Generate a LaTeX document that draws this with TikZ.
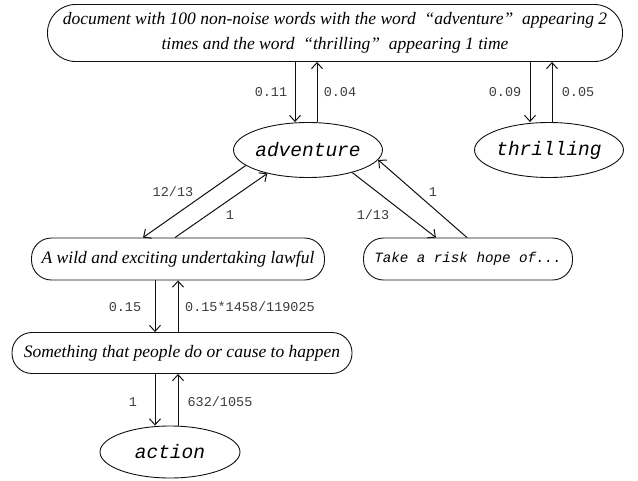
\documentclass[tikz,border=0pt]{standalone}
\usepackage{fontspec}
\setmainfont{Liberation Serif}
\newfontfamily\monofam{Liberation Mono}
\usetikzlibrary{arrows.meta,shapes.geometric}
\definecolor{Ink}{HTML}{111111}
\definecolor{Muted}{HTML}{3C3C3C}
\tikzset{
  sensebox/.style={
    draw=Ink,
    line width=0.9pt,
    rounded corners=20pt,
    minimum height=42pt,
    inner sep=2pt,
    font=\itshape\fontsize{17.5}{25}\selectfont
  },
  wordnode/.style={
    draw=Ink,
    ellipse,
    line width=0.9pt,
    minimum width=140pt,
    minimum height=55pt,
    inner sep=0pt,
    font=\monofam\itshape\fontsize{19.5}{22}\selectfont
  },
  flow/.style={-{Straight Barb[length=6pt,width=11pt]}, line width=1pt, draw=Ink},
  prob/.style={font=\monofam\fontsize{13.5}{15}\selectfont, text=Muted}
}

\begin{document}
\begin{tikzpicture}[x=1pt,y=-1pt]
  \useasboundingbox (0,0) rectangle (638,480);
  % nodes
  \node[sensebox, rounded corners=28pt, minimum width=575pt, minimum height=57pt,
        align=center] (doc) at (335,33)
    {document with 100 non-noise words with the word ~“adventure”~ appearing 2\\
     times and the word ~“thrilling”~ appearing 1 time};
  \node[wordnode] (adv) at (308,150) {adventure};
  \node[wordnode] (thr) at (549,150) {thrilling};
  \node[sensebox, minimum width=293pt] (wild) at (178,259) {A wild and exciting undertaking lawful};
  \node[sensebox, minimum width=209pt, font=\monofam\itshape\fontsize{14.2}{16}\selectfont]
    (risk) at (468,259) {Take a risk hope of...};
  \node[sensebox, minimum width=340pt, minimum height=41pt] (act) at (182,353)
    {Something that people do or cause to happen};
  \node[wordnode, minimum height=52pt] (action) at (170,452) {action};
  % document <-> words
  \draw[flow] ([xshift=-13pt]adv.north |- doc.south) -- ([xshift=-13pt]adv.north);
  \draw[flow] ([xshift=9pt]adv.north) -- ([xshift=9pt]adv.north |- doc.south);
  \draw[flow] ([xshift=-19pt]thr.north |- doc.south) -- ([xshift=-19pt]thr.north);
  \draw[flow] ([xshift=3pt]thr.north) -- ([xshift=3pt]thr.north |- doc.south);
  \node[prob] (p1) at (271,92) {0.11};
  \node[prob] (p2) at (340,92) {0.04};
  \node[prob] (p3) at (505,92) {0.09};
  \node[prob] (p4) at (578,92) {0.05};
  % adventure <-> senses
  \draw[flow] (adv.194) -- ([xshift=-35pt]wild.north);
  \draw[flow] ([xshift=-3pt]wild.north) -- (adv.210);
  \draw[flow] (adv.333) -- ([xshift=-32pt]risk.north);
  \draw[flow] ([xshift=-1pt]risk.north) -- (adv.352);
  \node[prob] (p5) at (173,192) {12/13};
  \node[prob] (p6) at (230,215) {1};
  \node[prob] (p7) at (373,215) {1/13};
  \node[prob] (p8) at (433,192) {1};
  % sense chain down to action
  \draw[flow] ([xshift=-23pt]wild.south) -- ([xshift=-23pt]wild.south |- act.north);
  \draw[flow] ([xshift=0pt]wild.south |- act.north) -- ([xshift=0pt]wild.south);
  \draw[flow] ([xshift=-15pt]action.north |- act.south) -- ([xshift=-15pt]action.north);
  \draw[flow] ([xshift=8pt]action.north) -- ([xshift=8pt]action.north |- act.south);
  \node[prob] (p9) at (125,307) {0.15};
  \node[prob] (p10) at (250,307) {0.15*1458/119025};
  \node[prob] (p11) at (133,402) {1};
  \node[prob] (p12) at (220,402) {632/1055};
\end{tikzpicture}
\end{document}
